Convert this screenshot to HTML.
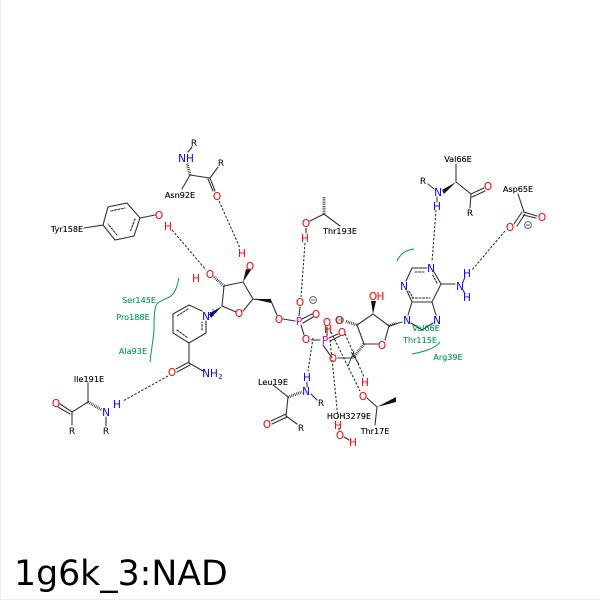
<!DOCTYPE html>
<html><head><meta charset="utf-8"><style>
html,body{margin:0;padding:0;background:#fff}
svg{display:block}
text{font-family:"DejaVu Sans",sans-serif;text-anchor:middle}
.b{stroke:#333;stroke-width:1.1;fill:none;stroke-linecap:round}
.d{stroke:#333;stroke-width:1.1;fill:none;stroke-dasharray:2.4 1.6}
.h{stroke:#333;stroke-width:3;fill:none;stroke-dasharray:.8 1}
.g{stroke:#009955;stroke-width:1;fill:none}
.a{font-size:10.5px}
.O{fill:#f00}.N{fill:#00f}.P{fill:#e0009a}
.l{font-size:8.1px;fill:#000;stroke:#000;stroke-width:.12}
.t{font-size:8.1px;fill:#009955;stroke:#009955;stroke-width:.12}
</style></head><body>
<svg width="600" height="600" viewBox="0 0 600 600" xmlns="http://www.w3.org/2000/svg">
<rect x="0" y="0" width="600" height="600" fill="#fff"/>
<path d="M.5 0V599.5H600" fill="none" stroke="#eee"/>
<!-- Hydrogen bonds -->
<g class="d">
<path d="M172 230L206 270"/>
<path d="M219 201L240 248"/>
<path d="M168 376L123 401"/>
<path d="M305 243L301 297"/>
<path d="M313 338L308 371"/>
<path d="M330 340L338 418"/>
<path d="M331 332L360 391"/>
<path d="M345 334L364 377"/>
<path d="M436 210L432 262"/>
<path d="M505 231L472 270"/>
</g>
<!-- Bonds -->
<g class="b">
<!-- Tyr -->
<path d="M84 228L103 225L108 207L127 203L140 218L134 236L115 240L103 225"/>
<path d="M111 211L125 208M135 219L130 232M117 235L108 224" stroke-dasharray="2 1.5"/>
<path d="M140 218L155 215"/>
<!-- Asn92 -->
<path d="M190 175L182 189M190 175L210 178L218 167M210 178L215 191M208 179L213 191"/>
<path d="M188 152L192 147"/>
<!-- Ribose N -->
<path d="M243 282L224 286L222 306L236 312M243 282L253 299L243 311M253 299L271 301L277 315M283 319L295 321"/>
<!-- Pyridine -->
<path d="M202 311L189 305L173 314V333L189 343L206 333V321"/>
<path d="M188 309L177 316M177 330L188 338M202 330V322" stroke-dasharray="2 1.5"/>
<path d="M189 343V363M189 363L203 371M189 362L176 369M190 365L177 372"/>
<!-- Ile191 -->
<path d="M88 383V402L72 412L72 425M72 412L60 404M70 414L58 407M106 417V426"/>
<!-- P -->
<path d="M299 316L300 307M302 319L312 314M303 323L313 317M301 325L304 335M311 340L320 340M323 345L330 355M327 336V327M329 338L338 334M330 341L340 336M338 358L353 358"/>
<!-- Ribose A -->
<path d="M364 344L357 325L373 314L389 326L385 340M378 344L364 344"/>
<path d="M389 326L402 322"/>
<!-- Adenine -->
<path d="M427 268H412L406 281M407 291L412 302H432L441 284L434 272"/>
<path d="M424 272H414M412 298H430M437 283L432 274M409 291L413 298" stroke-dasharray="2 1.5"/>
<path d="M412 302L408 315M432 302L436 315M411 323L422 330L433 323"/>
<path d="M441 284H455M463 282L465 277M463 290L465 294"/>
<!-- Val66 -->
<path d="M456 164V182L471 194L470 208M471 194L484 188M472 197L485 191M428 184L434 189M437 197V202"/>
<!-- Asp65 -->
<path d="M518 194L524 212L537 216M523 215L536 218M522 212L514 224M525 214L517 226"/>
<!-- Thr193 -->
<path d="M324 214L310 221M324 214L340 226M306 228V233"/>
<!-- Leu19 -->
<path d="M273 385L288 397L286 416L297 424M286 414L271 421M287 417L272 424M311 394L317 400M307 387V382"/>
<!-- Thr17 -->
<path d="M367 398L377 407L375 425"/>
<!-- Water -->
<path d="M339 430V428M344 437L349 440"/>
</g>
<!-- Wedges -->
<g fill="#111">
<polygon points="243,282 251,270 246,269"/>
<polygon points="222,306 209,314 211,318"/>
<polygon points="253,299 271,299 271,303"/>
<polygon points="373,314 371,301 376,301"/>
<polygon points="456,182 442,190 444,194"/>
<polygon points="377,407 396,397 396,402"/>
</g>
<g class="h">
<path d="M190 175L187 163"/>
<path d="M224 286L214 277"/>
<path d="M88 402L102 410"/>
<path d="M324 214V197"/>
<path d="M288 397L302 392"/>
<path d="M357 325L345 321"/>
<path d="M364 344L353 358"/>
<path d="M389 326L396 323"/>
</g>
<path d="M354 351L348 366M351 352L359 364" stroke="#222" stroke-width=".8" fill="none"/>
<!-- Green arcs -->
<g class="g">
<path d="M179 278C177 286 176 291 172 295C168 299 160 300 157 304C154 308 154 320 154 330C153 342 151 352 150 362"/>
<path d="M397 261C401 253 406 250 414 249"/>
<path d="M412 354C422 352 435 349 440 342"/>
</g>
<!-- Atoms -->
<g class="a">
<text class="O" x="159" y="219">O</text><text class="O" x="168" y="230">H</text>
<text class="O" x="210" y="278">O</text><text class="O" x="196" y="282">H</text>
<text class="O" x="217" y="200">O</text>
<text class="O" x="242" y="257">H</text><text class="O" x="250" y="270">O</text>
<text class="O" x="239" y="317">O</text>
<text class="O" x="279" y="323">O</text>
<text class="P" x="299" y="325">P</text>
<text class="O" x="300" y="306">O</text>
<text class="O" x="316" y="318">O</text>
<text class="O" x="306" y="343">O</text>
<text class="P" x="325" y="344">P</text>
<text class="O" x="327" y="326">O</text>
<text class="O" x="328" y="333">H</text>
<text class="O" x="339" y="324">O</text>
<text class="O" x="342" y="336">O</text>
<text class="O" x="333" y="362">O</text>
<text class="O" x="382" y="349">O</text>
<text class="O" x="373" y="300">O</text><text class="O" x="380.5" y="300">H</text>
<text class="O" x="365" y="386">H</text><text class="O" x="363" y="400">O</text>
<text class="O" x="338" y="429">H</text><text class="O" x="340" y="439">O</text><text class="O" x="353" y="446">H</text>
<text class="O" x="306" y="227">O</text><text class="O" x="305" y="242">H</text>
<text class="O" x="172" y="376">O</text>
<text class="O" x="56" y="407">O</text>
<text class="O" x="267" y="428">O</text>
<text class="O" x="488" y="190">O</text>
<text class="O" x="542" y="221">O</text>
<text class="O" x="510" y="231">O</text>
<text class="N" x="186" y="162">NH</text>
<text class="N" x="206" y="320">N</text><text class="N" x="213" y="316">+</text>
<text class="N" x="206" y="377">N</text>
<text class="N" x="214" y="377">H</text>
<text class="N" x="220.5" y="379" style="font-size:7px">2</text>
<text class="N" x="117" y="408">H</text><text class="N" x="106" y="416">N</text>
<text class="N" x="307" y="381">H</text><text class="N" x="306" y="395">N</text>
<text class="N" x="431" y="272">N</text><text class="N" x="404" y="290">N</text>
<text class="N" x="407" y="324">N</text><text class="N" x="437" y="324">N</text>
<text class="N" x="460" y="290">N</text><text class="N" x="467" y="277">H</text><text class="N" x="467" y="301">H</text>
<text class="N" x="438" y="196">N</text><text class="N" x="437" y="210">H</text>
<g style="font-size:9px" fill="#000">
<text x="194" y="146">R</text><text x="221" y="166">R</text>
<text x="72" y="434">R</text><text x="106" y="434">R</text>
<text x="321" y="406">R</text><text x="301" y="431">R</text>
<text x="423" y="184">R</text><text x="470" y="216">R</text>
</g>
</g>
<!-- Charges -->
<g fill="none" stroke="#555" stroke-width=".9">
<circle cx="313" cy="300" r="3.4"/><path d="M311 300H315"/>
<circle cx="340" cy="320" r="3.4"/><path d="M338 320H342"/>
<circle cx="528" cy="225" r="3.4"/><path d="M526 225H530"/>
</g>
<!-- Residue labels -->
<text class="l" x="67" y="232">Tyr158E</text>
<text class="l" x="180" y="198">Asn92E</text>
<text class="l" x="89" y="382">Ile191E</text>
<text class="l" x="340" y="234">Thr193E</text>
<text class="l" x="273" y="385">Leu19E</text>
<text class="l" x="349" y="419">HOH3279E</text>
<text class="l" x="375" y="434">Thr17E</text>
<text class="l" x="458" y="162">Val66E</text>
<text class="l" x="518" y="192">Asp65E</text>
<text class="t" x="139" y="303">Ser145E</text>
<text class="t" x="133" y="320">Pro188E</text>
<text class="t" x="133" y="354">Ala93E</text>
<text class="t" x="426" y="331">Val66E</text>
<text class="t" x="420" y="343">Thr115E</text>
<text class="t" x="448" y="360">Arg39E</text>
<text x="14" y="585" style="font-size:34.7px;text-anchor:start;fill:#000">1g6k_3:NAD</text>
</svg>
</body></html>
